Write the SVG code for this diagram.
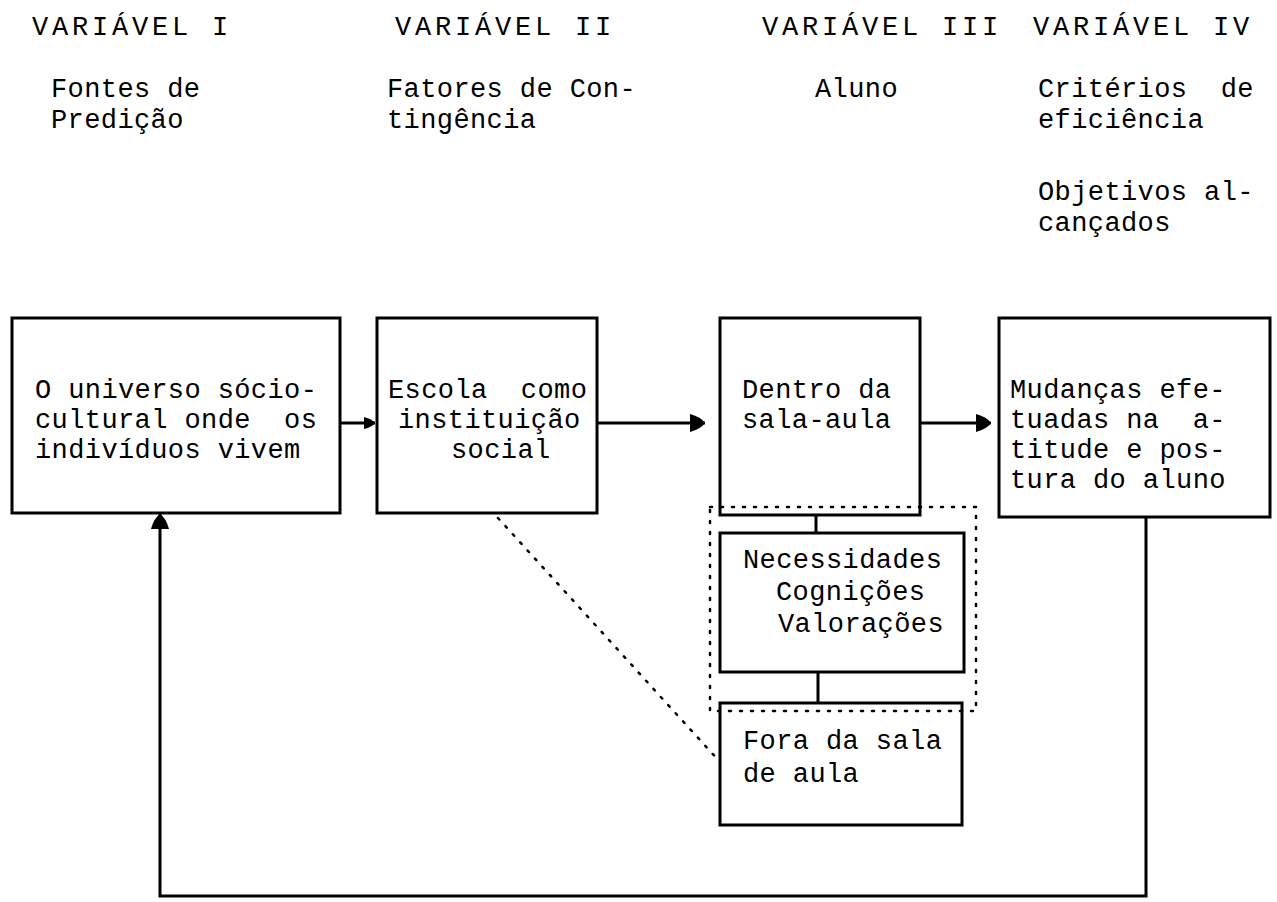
<svg xmlns="http://www.w3.org/2000/svg" width="1277" height="902" viewBox="0 0 1277 902">
<defs>
<style>
text{font-family:"Liberation Mono","Courier New",monospace;font-size:27px;fill:#000;letter-spacing:0.4px}
.hd{letter-spacing:3.8px}
.box{fill:none;stroke:#000;stroke-width:3}
.ln{fill:none;stroke:#000;stroke-width:3}
.dot{fill:none;stroke:#000;stroke-width:2.5;stroke-dasharray:2 9;stroke-linecap:round}
</style>
<marker id="ah" markerUnits="userSpaceOnUse" markerWidth="18" markerHeight="20" refX="16" refY="10" orient="auto">
<path d="M1,1 Q12,4 16,10 Q12,16 1,19 Z" fill="#000"/>
</marker>
<marker id="ahs" markerUnits="userSpaceOnUse" markerWidth="14" markerHeight="14" refX="12" refY="7" orient="auto">
<path d="M1,1 Q9,3 12,7 Q9,11 1,13 Z" fill="#000"/>
</marker>
</defs>

<g id="headers">
<text class="hd" x="32" y="35">VARIÁVEL I</text>
<text class="hd" x="395" y="35">VARIÁVEL II</text>
<text class="hd" x="762" y="35">VARIÁVEL III</text>
<text class="hd" x="1033" y="35">VARIÁVEL IV</text>
<text x="51" y="97">Fontes de</text>
<text x="51" y="128">Predição</text>
<text x="387" y="97">Fatores de Con-</text>
<text x="387" y="128">tingência</text>
<text x="815" y="97">Aluno</text>
<text x="1038" y="97" xml:space="preserve">Critérios  de</text>
<text x="1038" y="128">eficiência</text>
<text x="1038" y="200">Objetivos al-</text>
<text x="1038" y="231">cançados</text>
</g>

<g id="n1">
<rect class="box" x="12" y="318" width="328" height="195"/>
<text x="35" y="398">O universo sócio-</text>
<text x="35" y="428" xml:space="preserve">cultural onde  os</text>
<text x="35" y="458">indivíduos vivem</text>
</g>

<g id="n2">
<rect class="box" x="377" y="318" width="220" height="195"/>
<text x="388" y="398" xml:space="preserve">Escola  como</text>
<text x="398" y="428">instituição</text>
<text x="451" y="458">social</text>
</g>

<g id="n3">
<rect class="box" x="720" y="318" width="200" height="197"/>
<text x="742" y="398">Dentro da</text>
<text x="742" y="428">sala-aula</text>
</g>

<g id="n4">
<rect class="box" x="999" y="318" width="271" height="199"/>
<text x="1010" y="398">Mudanças efe-</text>
<text x="1010" y="428" xml:space="preserve">tuadas na  a-</text>
<text x="1010" y="458">titude e pos-</text>
<text x="1010" y="488">tura do aluno</text>
</g>

<g id="n5">
<rect class="box" x="720" y="533" width="244" height="139"/>
<text x="743" y="568">Necessidades</text>
<text x="776" y="600">Cognições</text>
<text x="778" y="632">Valorações</text>
</g>

<g id="n6">
<rect class="box" x="720" y="703" width="242" height="122"/>
<text x="743" y="749">Fora da sala</text>
<text x="743" y="782">de aula</text>
</g>

<g id="connectors">
<line class="ln" x1="340" y1="423" x2="375" y2="423" marker-end="url(#ahs)"/>
<line class="ln" x1="597" y1="423" x2="705" y2="423" marker-end="url(#ah)"/>
<line class="ln" x1="920" y1="423" x2="991" y2="423" marker-end="url(#ah)"/>
<polyline class="ln" points="1146,517 1146,896 160,896 160,514" marker-end="url(#ah)"/>
<line class="ln" x1="816" y1="515" x2="816" y2="533"/>
<line class="ln" x1="818" y1="672" x2="818" y2="703"/>
<path class="dot" d="M710,507 H976 V711 H710 Z"/>
<line class="dot" x1="498" y1="518" x2="720" y2="762"/>
</g>
</svg>
